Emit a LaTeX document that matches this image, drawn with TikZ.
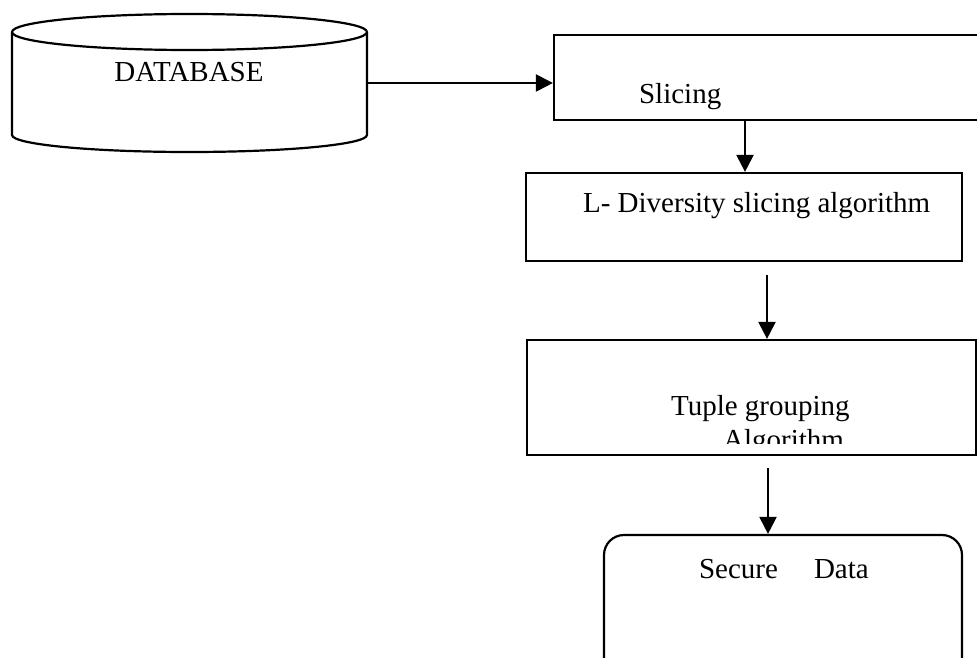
\documentclass[tikz,border=0pt]{standalone}
\usepackage{fontspec}
\setmainfont{Liberation Serif}
\usetikzlibrary{arrows.meta}
\begin{document}
\begin{tikzpicture}[x=1pt,y=-1pt,line width=2.2pt,
  box/.style={draw,rectangle,inner sep=0pt},
  lbl/.style={inner sep=0pt,anchor=base west,font=\fontsize{29}{33}\selectfont},
  flow/.style={-{Triangle[length=17pt,width=17pt]}}]
\useasboundingbox (0,0) rectangle (977,658);
\clip (0,0) rectangle (977,658);
% database cylinder
\draw (12,32) -- (12,135) arc[start angle=180,end angle=0,x radius=177.5,y radius=17]
  -- (367,32) arc[start angle=0,end angle=-180,x radius=177.5,y radius=18] -- cycle;
\draw (12,32) arc[start angle=180,end angle=0,x radius=177.5,y radius=18];
\node[inner sep=0pt,minimum width=355pt,minimum height=138pt] (db) at (189.5,83) {};
\node[lbl,anchor=base] (dbt) at (189,82) {DATABASE};
% slicing
\node[box,minimum width=436pt,minimum height=85pt] (sl) at (772,77.5) {};
\node[lbl] (slt) at (638,104) {Slicing};
% l-diversity
\node[box,minimum width=436pt,minimum height=88pt] (ld) at (744,217) {};
\node[lbl] (ldt) at (582,212) {L- Diversity slicing algorithm};
% tuple grouping
\node[box,minimum width=449pt,minimum height=115pt] (tg) at (751.5,397.5) {};
\node[lbl] (tgt) at (670,415) {Tuple grouping};
\begin{scope}
\clip (530,343) rectangle (974,443);
\node[lbl] (tga) at (722,449) {Algorithm};
\end{scope}
% secure data
\node[draw,rectangle,rounded corners=20pt,inner sep=0pt,minimum width=358pt,minimum height=150pt] (sd) at (783,610) {};
\node[lbl] (sdt) at (698,578) {Secure\hspace{36pt}Data};
% connectors
\draw[flow] (db.east) -- (db.east -| sl.west);
\draw[flow] (sl.south -| 745,0) -- (ld.north -| 745,0);
\coordinate (a2) at (767,275);
\draw[flow] (a2) -- (tg.north -| a2);
\coordinate (a3) at (768,468);
\draw[flow] (a3) -- (sd.north -| a3);
\end{tikzpicture}
\end{document}
